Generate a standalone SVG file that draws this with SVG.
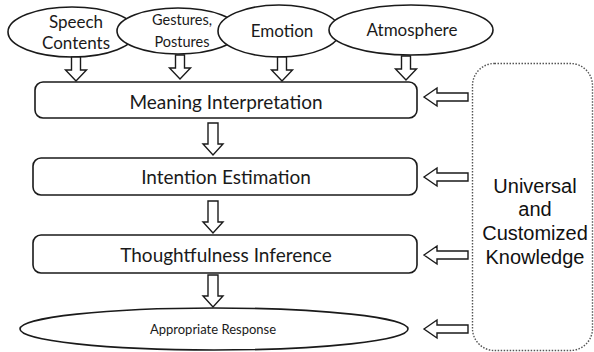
<svg xmlns="http://www.w3.org/2000/svg" width="594" height="352" viewBox="0 0 594 352">
<defs>
<style>
.n{fill:#fff;stroke:#1a1a1a;stroke-width:1.6}
.a{fill:#fff;stroke:#1a1a1a;stroke-width:1.4}
.t{font-family:Lato,"Open Sans",sans-serif;fill:#1a1a1a;text-anchor:middle}
.k{font-family:"Liberation Sans",Arial,sans-serif;fill:#111;text-anchor:middle;font-size:20px}
</style>
<path id="down" d="M-4.5,0 V13 H-10.5 L0,24 L10.5,13 H4.5 V0 Z"/>
<path id="downb" d="M-5,0 V21 H-10 L0,32 L10,21 H5 V0 Z"/>
<path id="left" d="M0,0 L13,-9 V-4 H44 V4 H13 V9 Z"/>
</defs>
<rect width="594" height="352" fill="#fff"/>
<g id="speech">
<ellipse class="n" cx="72" cy="32" rx="64" ry="25"/>
<text class="t" x="76" y="28" font-size="17">Speech</text>
<text class="t" x="76" y="49" font-size="17">Contents</text>
</g>
<g id="gestures">
<ellipse class="n" cx="178" cy="31" rx="61" ry="23"/>
<text class="t" x="182" y="25" font-size="14.5">Gestures,</text>
<text class="t" x="182" y="47" font-size="14.5">Postures</text>
</g>
<g id="emotion">
<ellipse class="n" cx="279" cy="31" rx="61" ry="26"/>
<text class="t" x="282" y="37" font-size="17">Emotion</text>
</g>
<g id="atmosphere">
<ellipse class="n" cx="411" cy="30" rx="82" ry="25"/>
<text class="t" x="412" y="36" font-size="17">Atmosphere</text>
</g>
<g id="meaning">
<rect class="n" x="35" y="82" width="382" height="36" rx="8"/>
<text class="t" x="226" y="109" font-size="19">Meaning Interpretation</text>
</g>
<g id="intention">
<rect class="n" x="33" y="158" width="384" height="37" rx="8"/>
<text class="t" x="226" y="184" font-size="19">Intention Estimation</text>
</g>
<g id="thoughtfulness">
<rect class="n" x="33" y="235" width="384" height="38" rx="8"/>
<text class="t" x="226" y="262" font-size="19">Thoughtfulness Inference</text>
</g>
<g id="response">
<ellipse class="n" cx="214" cy="329" rx="194" ry="21"/>
<text class="t" x="213" y="334" font-size="13">Appropriate Response</text>
</g>
<g id="knowledge">
<rect x="472.5" y="63.5" width="120" height="287" rx="22" fill="none" stroke="#555" stroke-width="1.4" stroke-dasharray="1.5 1.5"/>
<text class="k" x="535" y="193">Universal</text>
<text class="k" x="535" y="216">and</text>
<text class="k" x="535" y="240">Customized</text>
<text class="k" x="535" y="264">Knowledge</text>
</g>
<g id="connectors">
<use href="#down" class="a" transform="translate(76,57)"/>
<use href="#down" class="a" transform="translate(180,55)"/>
<use href="#down" class="a" transform="translate(282,57)"/>
<use href="#down" class="a" transform="translate(406,56)"/>
<use href="#downb" class="a" transform="translate(213,123)"/>
<use href="#downb" class="a" transform="translate(213,201)"/>
<use href="#downb" class="a" transform="translate(213,275)"/>
<use href="#left" class="a" transform="translate(424,97)"/>
<use href="#left" class="a" transform="translate(424,177)"/>
<use href="#left" class="a" transform="translate(424,255)"/>
<use href="#left" class="a" transform="translate(424,329)"/>
</g>
</svg>
